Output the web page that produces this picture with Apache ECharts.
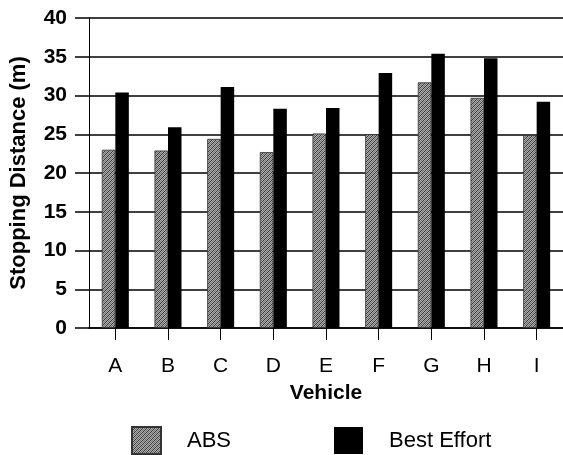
<!DOCTYPE html>
<html><head><meta charset="utf-8">
<script src="https://cdn.jsdelivr.net/npm/echarts@6/dist/echarts.min.js"></script>
<style>html,body{margin:0;padding:0;background:#fff}#c{width:563px;height:455px}</style>
</head><body><div id="c"></div>
<script>
var categories = ['A','B','C','D','E','F','G','H','I'];
var absValues = [23.0, 22.9, 24.4, 22.7, 25.1, 25.0, 31.7, 29.7, 24.9];
var bestEffortValues = [30.4, 25.9, 31.1, 28.3, 28.4, 32.9, 35.4, 34.8, 29.2];
var yTicks = [0, 5, 10, 15, 20, 25, 30, 35, 40];

// hatched pattern for ABS
var pc = document.createElement('canvas');
pc.width = 4; pc.height = 4;
var pctx = pc.getContext('2d');
pctx.fillStyle = '#b0b0b0';
pctx.fillRect(0,0,4,4);
pctx.fillStyle = '#333333';
for (var i = 0; i < 4; i++) { pctx.fillRect(i, 3 - i, 1, 1); }
pctx.fillStyle = '#707070';
for (var j = 0; j < 4; j++) { pctx.fillRect((j + 2) % 4, 3 - j, 1, 1); }
var absPattern = { image: pc, repeat: 'repeat' };

var font = 'Liberation Sans, Arial, sans-serif';
var chart = echarts.init(document.getElementById('c'));
chart.setOption({
  animation: false,
  backgroundColor: '#fff',
  grid: { left: 89, right: 0, top: 18, bottom: 127, containLabel: false, outerBoundsMode: 'none' },
  legend: {
    left: 126, top: 421,
    icon: 'rect',
    itemWidth: 29, itemHeight: 27, itemGap: 103,
    textStyle: { fontFamily: font, fontSize: 22, color: '#000', padding: [0, 0, 0, 21] },
    data: ['ABS', 'Best Effort']
  },
  xAxis: {
    type: 'category', data: categories,
    axisLine: { show: true, lineStyle: { color: '#000', width: 1.5 } },
    axisTick: { show: true, alignWithLabel: true, length: 12, lineStyle: { color: '#000', width: 1 } },
    axisLabel: { interval: 0, margin: 28, fontFamily: font, fontSize: 21, color: '#000' },
    name: 'Vehicle', nameLocation: 'middle', nameGap: 55,
    nameTextStyle: { fontFamily: font, fontSize: 21, fontWeight: 'bold', color: '#000' }
  },
  yAxis: {
    type: 'value', min: 0, max: 40, interval: 5,
    axisLine: { show: true, lineStyle: { color: '#000', width: 1 } },
    axisTick: { show: true, length: 14, inside: false, lineStyle: { color: '#000', width: 1.5 } },
    axisLabel: { margin: 22, fontFamily: font, fontSize: 21, fontWeight: 'bold', color: '#000',
      formatter: function (v) { return yTicks.indexOf(v) >= 0 ? String(v) : ''; } },
    splitLine: { show: true, lineStyle: { color: '#000', width: 1.5 } },
    name: 'Stopping Distance (m)', nameLocation: 'middle', nameGap: 59,
    nameTextStyle: { fontFamily: font, fontSize: 22, fontWeight: 'bold', color: '#000' }
  },
  series: [
    { name: 'ABS', type: 'bar', data: absValues,
      barWidth: 13.5, barGap: '0%',
      itemStyle: { color: absPattern, borderColor: '#333', borderWidth: 0.8 } },
    { name: 'Best Effort', type: 'bar', data: bestEffortValues,
      barWidth: 13.5, barGap: '0%',
      itemStyle: { color: '#000' } }
  ]
});
</script></body></html>
